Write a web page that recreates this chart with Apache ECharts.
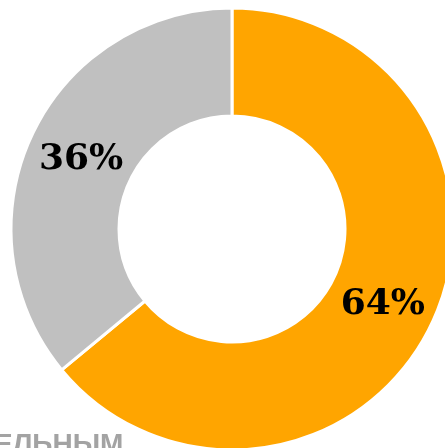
<!DOCTYPE html>
<html><head><meta charset="utf-8">
<script src="https://cdn.jsdelivr.net/npm/echarts@6/dist/echarts.min.js"></script>
<style>html,body{margin:0;padding:0;background:#fff}#c{width:445px;height:448px}</style>
</head><body><div id="c"></div>
<script>
var categories = ['A', 'B'];
var values = [64, 36];
var colors = ['#FFA500', '#C0C0C0'];
var labelOffsets = [[-3, 3], [3, 3]];
var chart = echarts.init(document.getElementById('c'));
chart.setOption({
  animation: false,
  graphic: [{
    type: 'text', left: -6, top: 431,
    style: { text: 'ЕЛЬНЫМ', font: 'bold 28px "Liberation Sans"', fill: '#A3A3A3' }
  }],
  series: [{
    type: 'pie',
    center: [232, 229],
    radius: [113, 221],
    startAngle: 90,
    clockwise: true,
    itemStyle: { borderColor: '#fff', borderWidth: 3 },
    label: {
      show: true, position: 'inside',
      formatter: function (p) { return p.value + '%'; },
      fontFamily: '"DejaVu Serif"', fontWeight: 'bold', fontSize: 36, color: '#000'
    },
    labelLine: { show: false },
    emphasis: { disabled: true },
    data: categories.map(function (c, i) {
      return { name: c, value: values[i], itemStyle: { color: colors[i] }, label: { offset: labelOffsets[i] } };
    })
  }]
});
</script></body></html>
